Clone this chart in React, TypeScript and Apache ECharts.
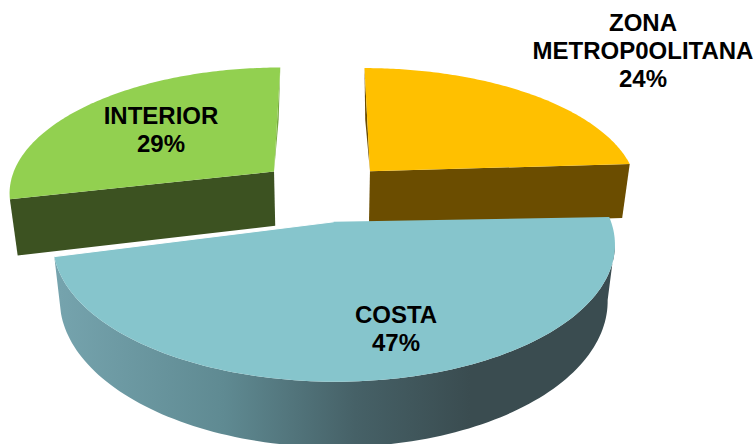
import React, { useEffect, useRef } from "react";
import * as echarts from "echarts";

const categories = ["ZONA\nMETROP0OLITANA", "COSTA", "INTERIOR"];
const shares = [24, 47, 29];
const drawOrder = [0, 2, 1];
const topColors = ["#FFC000", "#86C5CC", "#92D050"];
const wallColors = ["#6B4D00", "#3A4C50", "#3C5221"];
const sliverColors = ["#6B4D00", "", "#76A83F"];
const labelCenters = [[643, 50], [396, 328], [161, 129]];
// small per-slice placement corrections: x shift, y shift, x scale about 55, start-angle offset in degrees, extra wall depth
const nudges = [
  { dx: 2, dy: 0, sx: 1, start: 0, deep: 3 },
  { dx: 0, dy: 0, sx: 0.991, start: 1.5, deep: 0 },
  { dx: 0, dy: -3, sx: 0.985, start: 1.5, deep: 2.5 },
];

const CX = 326, CY = 192, RX = 270, RY = 125, K = 0.154, EXPLODE = 0.233, DEPTH = 53, SHRINK = 0.975;

function project(a: number, b: number): [number, number] {
  const w = 1 + K * b;
  return [CX + (RX * a) / w, CY - (RY * b) / w];
}
function lower(p: [number, number], b: number, deep: number): [number, number] {
  const w = 1 + K * b;
  return [CX + (p[0] - CX) * SHRINK, p[1] + (DEPTH + deep) / w];
}

const total = shares.reduce((s, v) => s + v, 0);

function renderSlice(_params: any, api: any) {
  const idx = api.value(0) as number;
  const n = nudges[idx];
  const place = (p: [number, number]): [number, number] => [55 + (p[0] - 55) * n.sx + n.dx, p[1] + n.dy];
  const before = shares.slice(0, idx).reduce((s, v) => s + v, 0);
  const t0raw = (before / total) * Math.PI * 2;
  const t1 = ((before + shares[idx]) / total) * Math.PI * 2;
  const mid = (t0raw + t1) / 2;
  const t0 = t0raw + (n.start * Math.PI) / 180;
  const ox = Math.sin(mid) * EXPLODE;
  const oy = Math.cos(mid) * EXPLODE;

  const top: [number, number][] = [];
  const bottom: [number, number][] = [];
  const steps = 120;
  for (let i = 0; i <= steps; i++) {
    const t = t0 + ((t1 - t0) * i) / steps;
    const a = ox + Math.sin(t);
    const b = oy + Math.cos(t);
    const p = project(a, b);
    top.push(place(p));
    bottom.push(place(lower(p, b, n.deep)));
  }
  const apexRaw = project(ox, oy);
  const apex = place(apexRaw);
  const apexLow = place(lower(apexRaw, oy, n.deep));
  const children: any[] = [];

  if (idx === 1) {
    const fill = new echarts.graphic.LinearGradient(
      60, 0, 470, 0,
      [
        { offset: 0, color: "#75A3AD" },
        { offset: 0.4, color: "#5F8A92" },
        { offset: 0.72, color: "#466167" },
        { offset: 1, color: wallColors[1] },
      ],
      true
    );
    let iR = 0;
    let iL = 0;
    top.forEach((p, i) => {
      if (p[0] > top[iR][0]) iR = i;
      if (p[0] < top[iL][0]) iL = i;
    });
    let jR = 0;
    let jL = 0;
    bottom.forEach((p, i) => {
      if (p[0] > bottom[jR][0]) jR = i;
      if (p[0] < bottom[jL][0]) jL = i;
    });
    children.push({
      type: "polygon",
      shape: { points: [...top.slice(iR, iL + 1), ...bottom.slice(jR, jL + 1).reverse()] },
      style: { fill },
    });
  } else if (idx === 0) {
    const e = top[top.length - 1];
    const eLow = bottom[bottom.length - 1];
    children.push({ type: "polygon", shape: { points: [apex, e, eLow, apexLow] }, style: { fill: wallColors[0] } });
    const o = top[0];
    children.push({
      type: "polygon",
      shape: { points: [o, apex, [(o[0] + apex[0]) / 2 - 2, (o[1] + apex[1]) / 2]] },
      style: { fill: sliverColors[0] },
    });
  } else {
    const s = top[0];
    const sLow = bottom[0];
    children.push({ type: "polygon", shape: { points: [apex, s, sLow, apexLow] }, style: { fill: wallColors[2] } });
    const o = top[top.length - 1];
    children.push({
      type: "polygon",
      shape: { points: [o, apex, [(o[0] + apex[0]) / 2 + 1.5, (o[1] + apex[1]) / 2]] },
      style: { fill: sliverColors[2] },
    });
  }

  children.push({
    type: "polygon",
    shape: { points: [apex, ...top] },
    style: { fill: topColors[idx] },
  });
  if (idx === 1) {
    children.push({
      type: "line",
      shape: { x1: apex[0], y1: apex[1], x2: top[top.length - 1][0], y2: top[top.length - 1][1] },
      style: { stroke: "#FFFFFF", lineWidth: 1 },
    });
  }
  children.push({
    type: "text",
    style: {
      text: `${categories[idx]}\n${shares[idx]}%`,
      x: labelCenters[idx][0],
      y: labelCenters[idx][1],
      fill: "#000000",
      font: 'bold 24px "Liberation Sans", Arial, sans-serif',
      lineHeight: 28,
      textAlign: "center",
      textVerticalAlign: "middle",
    },
  });
  return { type: "group", children };
}

export default function App() {
  const ref = useRef<HTMLDivElement>(null);
  useEffect(() => {
    const chart = echarts.init(ref.current!, null, { renderer: "svg" });
    chart.setOption({
      animation: false,
      backgroundColor: "#FFFFFF",
      series: [
        {
          type: "custom",
          coordinateSystem: "none",
          silent: true,
          clip: false,
          data: drawOrder.map((i) => [i]),
          renderItem: renderSlice,
        },
      ],
    });
    return () => chart.dispose();
  }, []);
  return <div ref={ref} style={{ position: "fixed", left: 0, top: 0, width: 756, height: 444 }} />;
}
